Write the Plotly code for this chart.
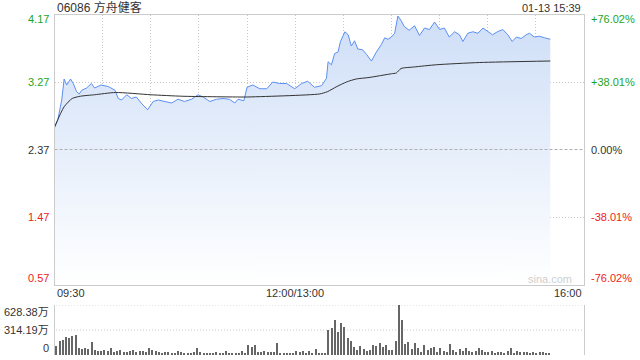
import plotly.graph_objects as go

W, H = 640, 360

# ---------------- data ----------------
title_text = "06086 方舟健客"
stamp_text = "01-13 15:39"
prev_close = 2.37

price_min = [0, 2, 4.5, 6, 7.6, 10, 11.7, 13.8, 15.4, 17, 20, 23, 25, 29, 33.5, 37.7, 39.7, 41.8,
             45, 48, 51, 54, 58, 61.5, 64.6, 68.8, 73, 77, 81, 85.4, 89.5, 92.6, 96.8, 101, 105,
             109, 112.4, 114.4, 118, 120, 123.6, 128, 132.3, 136, 140.4, 144.7, 149.7, 154, 157.8,
             162, 166.4, 169.5, 170.5, 172.6, 174.6, 176.7, 178.2, 181, 183, 185, 187, 189, 192,
             194.4, 197.5, 200.6, 203.7, 205.8, 207.8, 210, 212, 214, 216, 218, 221, 224.4, 227.5,
             230.6, 233.7, 236.9, 240, 243, 246, 249.4, 252.4, 254.5, 257.6, 260.7, 263.9, 267,
             270, 273, 276, 279.4, 282.5, 285.3, 287.8, 290.9, 294, 296, 299, 302.3, 305.4, 309]
price_val = [2.66, 2.76, 3.03, 3.31, 3.23, 3.31, 3.25, 3.14, 3.11, 3.16, 3.19, 3.25, 3.19, 3.23, 3.21,
             3.16, 3.05, 3.03, 3.10, 3.05, 3.07, 2.99, 2.90, 3.01, 3.03, 3.01, 2.99, 3.04, 3.01, 3.04,
             3.10, 3.07, 3.01, 3.04, 3.05, 3.04, 2.99, 3.04, 3.02, 3.20, 3.23, 3.18, 3.18, 3.27, 3.25,
             3.25, 3.18, 3.25, 3.28, 3.20, 3.22, 3.32, 3.54, 3.50, 3.65, 3.67, 3.81, 3.94, 3.90, 3.75,
             3.82, 3.71, 3.70, 3.64, 3.55, 3.67, 3.77, 3.86, 3.84, 3.87, 3.92, 4.15, 4.09, 4.01, 3.96,
             4.02, 3.89, 3.99, 3.97, 4.07, 3.97, 3.99, 3.87, 3.94, 3.90, 3.81, 3.92, 3.94, 3.92, 3.99,
             3.94, 3.90, 3.94, 3.97, 3.90, 3.81, 3.87, 3.85, 3.90, 3.92, 3.87, 3.88, 3.86, 3.84]

avg_min = [0, 6, 11, 16, 25, 38, 60, 80, 115, 120, 165, 170, 176, 182, 188, 196, 210, 213, 216, 224,
           238, 265, 309]
avg_val = [2.67, 2.94, 3.05, 3.08, 3.10, 3.13, 3.10, 3.08, 3.07, 3.07, 3.11, 3.14, 3.21, 3.27, 3.31,
           3.33, 3.38, 3.39, 3.45, 3.47, 3.50, 3.53, 3.55]

vol_min = list(range(0, 310, 2))
vol_val = [113, 180, 189, 222, 210, 239, 251, 90, 75, 84, 70, 168, 63, 50, 55, 63, 50, 84, 42, 55, 63,
           34, 42, 50, 63, 42, 55, 50, 42, 84, 63, 50, 34, 29, 42, 34, 29, 25, 55, 34, 25,
           30, 25, 42, 84, 34, 25, 29, 21, 25, 34, 21,
           13, 50, 13, 17, 13, 13, 50, 17,
           126, 105, 126,
           42, 34, 50, 34, 42, 34, 155,
           25, 21, 17, 29, 21, 50, 42, 55, 21, 50,
           21, 71, 21, 17, 21,
           314, 335, 440, 293, 406, 356, 210, 180, 105, 63, 117, 75, 50, 63, 126, 113, 147, 105,
           126, 63, 63, 176, 628, 440,
           134, 168, 71, 147, 84, 42, 126, 63, 84, 105, 42, 92, 50, 42, 134, 63, 42, 75, 50, 84,
           50, 42, 55, 92, 63, 42, 34, 50, 30, 42, 34, 25, 50, 92, 30, 50, 42, 34, 42, 29, 42, 25,
           34, 42, 30, 21]

y_ticks = [4.17, 3.27, 2.37, 1.47, 0.57]
y_labels = ["4.17", "3.27", "2.37", "1.47", "0.57"]
pct_labels = ["+76.02%", "+38.01%", "0.00%", "-38.01%", "-76.02%"]
tick_colors = ["#1ea51e", "#1ea51e", "#333333", "#ee2222", "#ee2222"]

x_ticks = [0, 150, 330]
x_labels = ["09:30", "12:00/13:00", "16:00"]
x_grid = [30, 60, 90, 120, 150, 180, 210, 240, 270, 300]

vol_ticks = [628.38, 314.19, 0]
vol_labels = ["628.38万", "314.19万", "0"]

# ---------------- layout geometry (pixels) ----------------
L, R = 54.5, 584
P_TOP, P_BOT = 14.5, 284.5
V_TOP, V_BOT = 305, 355
def py(p):
    return 1 - p / H

FONT = "Liberation Sans, Arial, Noto Sans CJK SC, sans-serif"
GRID = "#c8c8c8"
BORDER = "#cccccc"
DOT = "1px,2px"

fig = go.Figure()

fig.add_trace(go.Scatter(
    x=price_min, y=price_val, mode="lines", xaxis="x", yaxis="y",
    line=dict(color="#5b8ff2", width=1),
    fill="tozeroy",
    fillgradient=dict(type="vertical", start=y_ticks[-1], stop=y_ticks[0],
                      colorscale=[[0, "rgba(255,255,255,1)"], [1, "rgb(206,222,247)"]]),
    hoverinfo="skip", showlegend=False))

fig.add_trace(go.Scatter(
    x=avg_min, y=avg_val, mode="lines", xaxis="x", yaxis="y",
    line=dict(color="#333333", width=1, shape="spline", smoothing=0.6),
    hoverinfo="skip", showlegend=False))

fig.add_trace(go.Bar(
    x=vol_min, y=vol_val, xaxis="x2", yaxis="y2",
    marker=dict(color="#666666", line=dict(width=0)), width=0.8,
    hoverinfo="skip", showlegend=False))

shapes = []
# previous close dashed line
shapes.append(dict(type="line", xref="x", yref="y", x0=0, x1=330, y0=prev_close, y1=prev_close,
                   line=dict(color="#b0b0b0", width=1, dash="3px,2px"), layer="above"))
# volume dotted lines
for v in vol_ticks[:2]:
    shapes.append(dict(type="line", xref="x2", yref="y2", x0=0, x1=330, y0=v, y1=v,
                       line=dict(color=GRID, width=1, dash=DOT), layer="below"))

annotations = []
annotations.append(dict(text=title_text, x=L / W, y=py(7.5), xref="paper", yref="paper",
                        xanchor="left", yanchor="middle", showarrow=False,
                        font=dict(family=FONT, size=12, color="#333333")))
annotations.append(dict(text=stamp_text, x=583 / W, y=py(7.5), xref="paper", yref="paper",
                        xanchor="right", yanchor="middle", showarrow=False,
                        font=dict(family=FONT, size=11, color="#333333")))
n = len(y_ticks)
for i, (v, lab, pct, col) in enumerate(zip(y_ticks, y_labels, pct_labels, tick_colors)):
    shift = 0
    if i == 0:
        shift = -4.5
    elif i == n - 1:
        shift = 6.5
    annotations.append(dict(text=lab, x=51 / W, y=v, xref="paper", yref="y", yshift=shift,
                            xanchor="right", yanchor="middle", showarrow=False,
                            font=dict(family=FONT, size=11, color=col)))
    annotations.append(dict(text=pct, x=589 / W, y=v, xref="paper", yref="y", yshift=shift,
                            xanchor="left", yanchor="middle", showarrow=False,
                            font=dict(family=FONT, size=11, color=col)))
anchors = ["left", "center", "right"]
for v, lab, a in zip(x_ticks, x_labels, anchors):
    annotations.append(dict(text=lab, x=v, y=py(293), xref="x", yref="paper",
                            xanchor=a, yanchor="middle", showarrow=False,
                            font=dict(family=FONT, size=11, color="#333333")))
vshift = [-7, 0, 7]
for v, lab, s in zip(vol_ticks, vol_labels, vshift):
    annotations.append(dict(text=lab, x=51 / W, y=v, xref="paper", yref="y2", yshift=s,
                            xanchor="right", yanchor="middle", showarrow=False,
                            font=dict(family=FONT, size=11, color="#333333")))
annotations.append(dict(text="sina.com", x=574 / W, y=py(279), xref="paper", yref="paper",
                        xanchor="right", yanchor="middle", showarrow=False,
                        font=dict(family=FONT, size=11, color="#cfcfcf")))

fig.update_layout(
    width=W, height=H, margin=dict(l=0, r=0, t=0, b=0),
    paper_bgcolor="white", plot_bgcolor="rgba(0,0,0,0)",
    bargap=0, shapes=shapes, annotations=annotations,
    xaxis=dict(domain=[L / W, R / W], range=[0, 330], anchor="y",
               tickvals=x_grid, showticklabels=False, ticks="",
               showgrid=True, gridcolor=GRID, griddash=DOT, gridwidth=1,
               showline=True, linecolor=BORDER, linewidth=1, mirror=True, zeroline=False,
               fixedrange=True),
    yaxis=dict(domain=[py(P_BOT), py(P_TOP)], range=[y_ticks[-1], y_ticks[0]], anchor="x",
               tickvals=[y_ticks[1], y_ticks[3]], showticklabels=False, ticks="",
               showgrid=True, gridcolor=GRID, griddash=DOT, gridwidth=1,
               showline=True, linecolor=BORDER, linewidth=1, mirror=True, zeroline=False),
    xaxis2=dict(domain=[L / W, R / W], range=[-1, 330], anchor="y2",
                showticklabels=False, ticks="", showgrid=False, zeroline=False, showline=False),
    yaxis2=dict(domain=[py(V_BOT), py(V_TOP)], range=[0, vol_ticks[0]], anchor="x2",
                showticklabels=False, ticks="", showgrid=False, zeroline=False,
                showline=True, linecolor=BORDER, linewidth=1, mirror=True),
)

fig.write_html("out.html")
